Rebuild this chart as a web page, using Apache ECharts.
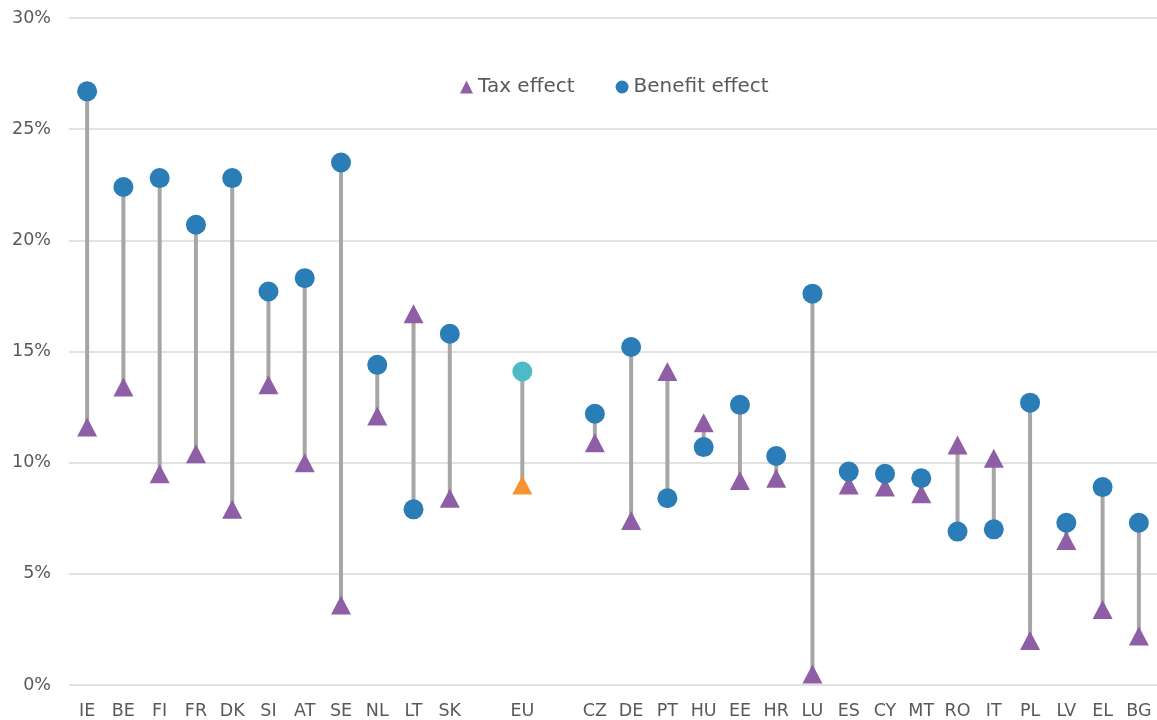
<!DOCTYPE html>
<html>
<head>
<meta charset="utf-8">
<script src="https://cdn.jsdelivr.net/npm/echarts@6/dist/echarts.min.js"></script>
<style>
  html, body { margin: 0; padding: 0; background: #fff; }
  #chart { width: 1157px; height: 720px; }
</style>
</head>
<body>
<div id="chart"></div>
<script>
// Country codes; empty strings leave a gap around the EU average
const countries = ['IE','BE','FI','FR','DK','SI','AT','SE','NL','LT','SK','','EU','',
  'CZ','DE','PT','HU','EE','HR','LU','ES','CY','MT','RO','IT','PL','LV','EL','BG'];

// Tax effect (%)
const taxEffect = [11.6, 13.4, 9.5, 10.4, 7.9, 13.5, 10.0, 3.6, 12.1, 16.7, 8.4, null, 9.0, null,
  10.9, 7.4, 14.1, 11.8, 9.2, 9.3, 0.5, 9.0, 8.9, 8.6, 10.8, 10.2, 2.0, 6.5, 3.4, 2.2];

// Benefit effect (%)
const benefitEffect = [26.7, 22.4, 22.8, 20.7, 22.8, 17.7, 18.3, 23.5, 14.4, 7.9, 15.8, null, 14.1, null,
  12.2, 15.2, 8.4, 10.7, 12.6, 10.3, 17.6, 9.6, 9.5, 9.3, 6.9, 7.0, 12.7, 7.3, 8.9, 7.3];

const yTicks = [0, 5, 10, 15, 20, 25, 30];

const TAX_COLOR = '#8E5FA6';
const BEN_COLOR = '#2A7DB6';
const EU_TAX_COLOR = '#F79331';
const EU_BEN_COLOR = '#4DBBC6';
const TEXT_COLOR = '#595959';
const FONT = "'DejaVu Sans', Verdana, sans-serif";

function pointData(values, euColor) {
  return values.map((v, i) => {
    if (v == null) return '-';
    if (countries[i] === 'EU') return { value: v, itemStyle: { color: euColor } };
    return v;
  });
}

// Connector ranges between the two effects
const ranges = countries.map((c, i) =>
  taxEffect[i] == null ? null : [i, Math.min(taxEffect[i], benefitEffect[i]), Math.max(taxEffect[i], benefitEffect[i])]
).filter(Boolean);

const chart = echarts.init(document.getElementById('chart'), null, { renderer: 'canvas' });
chart.setOption({
  animation: false,
  backgroundColor: '#ffffff',
  textStyle: { fontFamily: FONT },
  grid: { left: 69, right: 0, top: 18, bottom: 33, containLabel: false },
  legend: {
    left: 455, top: 72,
    itemWidth: 13, itemHeight: 13, itemGap: 41,
    textStyle: { color: TEXT_COLOR, fontSize: 20, fontFamily: FONT },
    data: [
      { name: 'Tax effect', icon: 'triangle' },
      { name: 'Benefit effect', icon: 'circle' }
    ]
  },
  xAxis: {
    type: 'category',
    data: countries,
    boundaryGap: true,
    axisLine: { show: false },
    axisTick: { show: false },
    axisLabel: { color: TEXT_COLOR, fontSize: 17.5, fontFamily: FONT, margin: 17, interval: 0 }
  },
  yAxis: {
    type: 'value',
    min: yTicks[0], max: yTicks[yTicks.length - 1], interval: 5,
    axisLine: { show: false },
    axisTick: { show: false },
    axisLabel: { color: TEXT_COLOR, fontSize: 17.5, fontFamily: FONT, margin: 18, formatter: '{value}%' },
    splitLine: { lineStyle: { color: '#D9D9D9', width: 1.5 } }
  },
  series: [
    {
      type: 'custom',
      name: 'range',
      silent: true,
      z: 1,
      data: ranges,
      encode: { x: 0, y: [1, 2] },
      renderItem: function (params, api) {
        const a = api.coord([api.value(0), api.value(1)]);
        const b = api.coord([api.value(0), api.value(2)]);
        return {
          type: 'line',
          shape: { x1: a[0], y1: a[1], x2: b[0], y2: b[1] },
          style: { stroke: '#A6A6A6', lineWidth: 4 }
        };
      }
    },
    {
      type: 'scatter',
      name: 'Tax effect',
      symbol: 'triangle',
      symbolSize: [20, 19],
      z: 2,
      itemStyle: { color: TAX_COLOR, opacity: 1 },
      data: pointData(taxEffect, EU_TAX_COLOR)
    },
    {
      type: 'scatter',
      name: 'Benefit effect',
      symbol: 'circle',
      symbolSize: 20,
      z: 3,
      itemStyle: { color: BEN_COLOR, opacity: 1 },
      data: pointData(benefitEffect, EU_BEN_COLOR)
    }
  ]
});
</script>
</body>
</html>
